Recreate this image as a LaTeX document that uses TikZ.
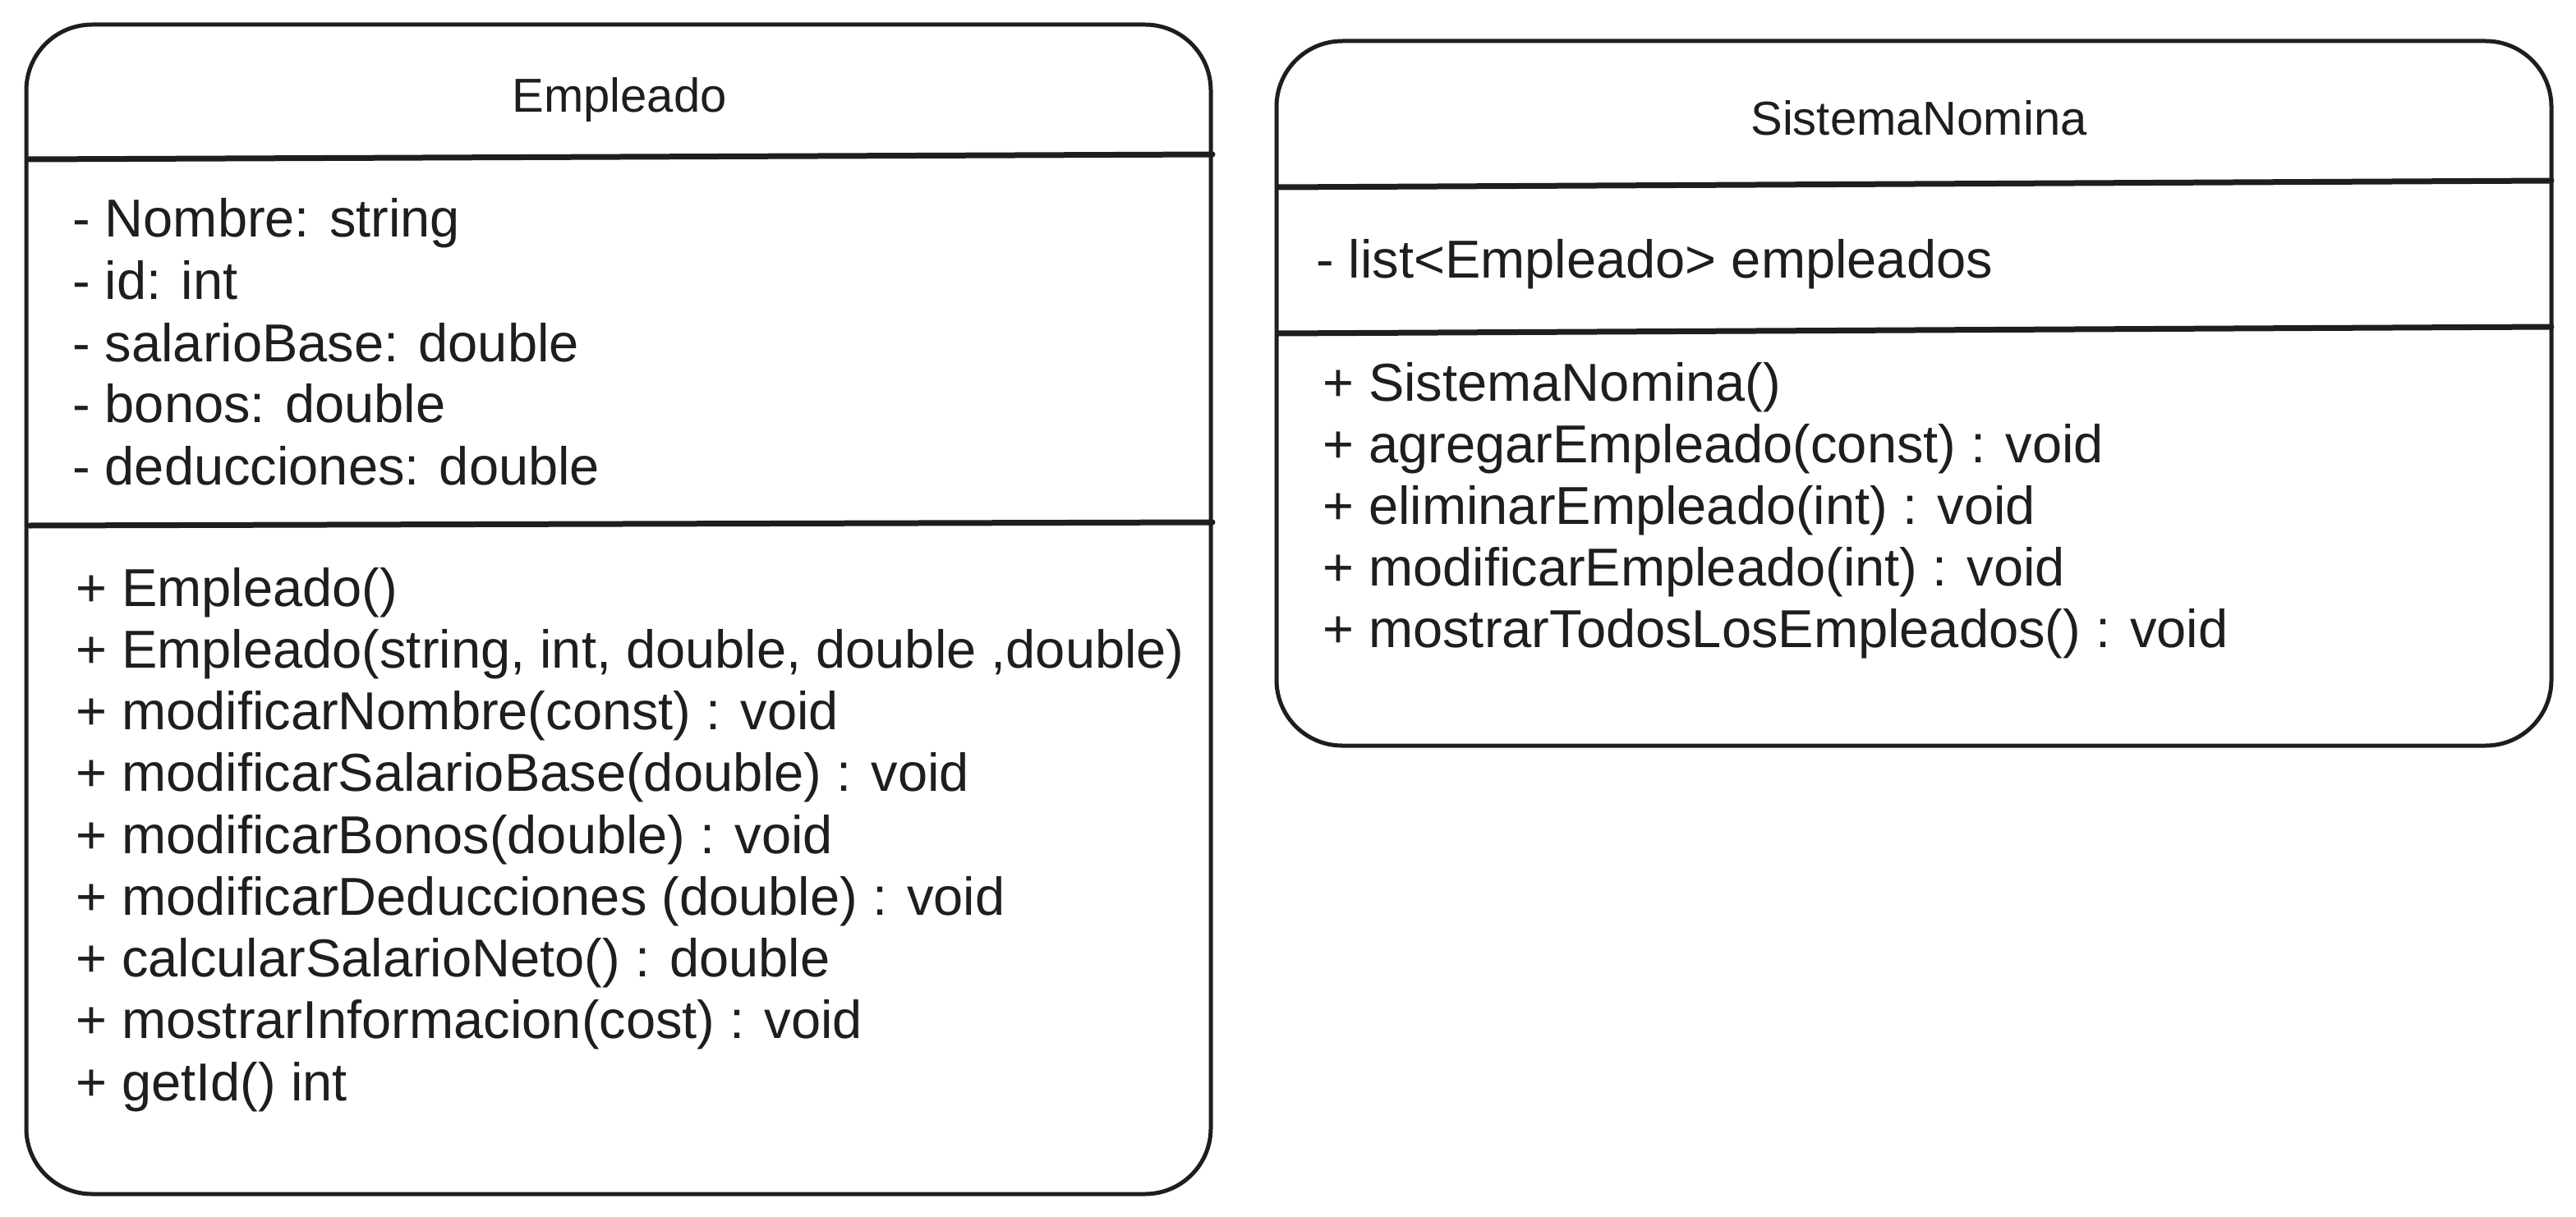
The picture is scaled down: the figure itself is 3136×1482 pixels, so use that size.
\documentclass[tikz,border=0pt]{standalone}
\usepackage{fontspec}
\setmainfont{Liberation Sans}
\definecolor{ink}{HTML}{1E1E1E}
\begin{document}
\begin{tikzpicture}[x=1pt,y=-1pt,
  classbox/.style={draw=ink, line width=5pt, rounded corners=80pt, inner sep=0pt, outer sep=0pt, anchor=north west},
  divider/.style={draw=ink, line width=7pt, line cap=round},
  member/.style={anchor=base west, inner sep=0pt, font=\fontsize{65}{78}\selectfont, text=ink},
  ctitle/.style={anchor=base, inner sep=0pt, font=\fontsize{58}{70}\selectfont, text=ink}]
\useasboundingbox[fill=white] (0,0) rectangle (3136,1482);

% ---------------- Empleado ----------------
\node[classbox, minimum width=1442pt, minimum height=1424pt] (emp) at (32,30) {};
\coordinate (e1l) at (34,194); \coordinate (e1r) at (1476,188);
\coordinate (e2l) at (36,640); \coordinate (e2r) at (1476,636);
\draw[divider] (e1l) -- (e1r);
\draw[divider] (e2l) -- (e2r);
\node[ctitle] (empT) at (754,137) {Empleado};

\node[member] (ea1) at (88,288) {- Nombre: string};
\node[member] (ea2) at (88,364) {- id: int};
\node[member] (ea3) at (88,440) {- salarioBase: double};
\node[member] (ea4) at (88,514) {- bonos: double};
\node[member] (ea5) at (88,590) {- deducciones: double};

\node[member] (em1) at (92,738) {+ Empleado()};
\node[member] (em2) at (92,813.25) {+ Empleado(string, int, double, double ,double)};
\node[member] (em3) at (92,888.5) {+ modificarNombre(const) : void};
\node[member] (em4) at (92,963.75) {+ modificarSalarioBase(double) : void};
\node[member] (em5) at (92,1039) {+ modificarBonos(double) : void};
\node[member] (em6) at (92,1114.25) {+ modificarDeducciones (double) : void};
\node[member] (em7) at (92,1189.5) {+ calcularSalarioNeto() : double};
\node[member] (em8) at (92,1264.75) {+ mostrarInformacion(cost) : void};
\node[member] (em9) at (92,1340) {+ getId() int};

% ---------------- SistemaNomina ----------------
\node[classbox, minimum width=1552pt, minimum height=858pt] (sis) at (1554,50) {};
\coordinate (s1l) at (1556,228); \coordinate (s1r) at (3106,220);
\coordinate (s2l) at (1556,406); \coordinate (s2r) at (3106,398);
\draw[divider] (s1l) -- (s1r);
\draw[divider] (s2l) -- (s2r);
\node[ctitle] (sisT) at (2336,165) {SistemaNomina};

\node[member] (sa1) at (1602,338) {- list<Empleado> empleados};

\node[member] (sm1) at (1610,488) {+ SistemaNomina()};
\node[member] (sm2) at (1610,563) {+ agregarEmpleado(const) : void};
\node[member] (sm3) at (1610,638) {+ eliminarEmpleado(int) : void};
\node[member] (sm4) at (1610,713) {+ modificarEmpleado(int) : void};
\node[member] (sm5) at (1610,788) {+ mostrarTodosLosEmpleados() : void};
\end{tikzpicture}
\end{document}
